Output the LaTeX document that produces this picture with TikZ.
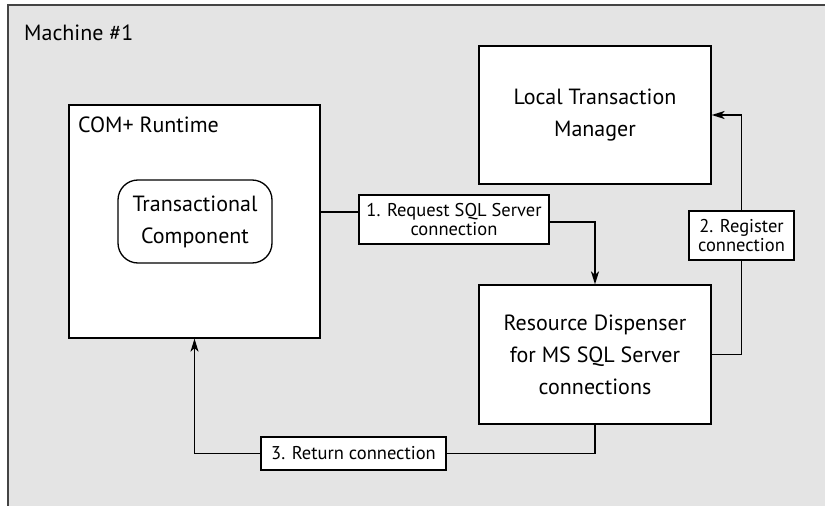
\documentclass[tikz,border=0pt]{standalone}
\usepackage{fontspec}
\setmainfont{PT Sans}
\usetikzlibrary{arrows.meta}
\definecolor{bggray}{HTML}{E4E4E4}
\definecolor{edge}{HTML}{444444}
\begin{document}
\begin{tikzpicture}[x=1pt,y=-1pt,
  box/.style={draw=black, fill=white, line width=1.3pt, align=center, inner sep=0pt,
    font=\fontsize{22}{32}\selectfont},
  lbl/.style={draw=black, fill=white, line width=1.2pt, align=center, inner sep=0pt,
    font=\fontsize{18.5}{18.5}\selectfont},
  plain/.style={inner sep=0pt, font=\fontsize{22}{32}\selectfont},
  conn/.style={line width=1.4pt},
  arr/.style={conn, -{Stealth[length=13pt,width=8pt,inset=3.5pt]}}]
\useasboundingbox (0,0) rectangle (825,506);
\fill[bggray] (8,5) rectangle (825,506);
\draw[edge, line width=1.5pt] (825,5) -- (8,5);
\draw[edge, line width=2.5pt] (8,4.3) -- (8,506);
\node[plain, anchor=base west] (mach) at (24,40) {Machine \#1};

\node[box, minimum width=251pt, minimum height=233pt] (com) at (194.5,221.5) {};
\node[plain, anchor=base west] (comt) at (78,132) {COM+ Runtime};
\node[box, rounded corners=20pt, minimum width=154pt, minimum height=83pt] (tc) at (195,221.5) {Transactional\\Component};

\node[box, minimum width=232pt, minimum height=138pt] (ltm) at (595,115) {Local Transaction\\Manager};
\node[box, minimum width=232pt, minimum height=139pt] (rd) at (595,354.5) {Resource Dispenser\\for MS SQL Server\\connections};

\node[lbl, minimum width=190pt, minimum height=49pt] (l1) at (454,219.5) {1. Request SQL Server\\connection};
\node[lbl, minimum width=105pt, minimum height=49pt] (l2) at (741.5,235.5) {2. Register\\connection};
\node[lbl, minimum width=185pt, minimum height=33pt] (l3) at (353.5,453.5) {3. Return connection};

\coordinate (a1) at ([yshift=7.5pt]l1.west);
\draw[conn] (a1 -| com.east) -- (a1);
\draw[arr] ([yshift=-2.5pt]l1.east) -| (rd.north);
\draw[conn] (rd.east) -| (l2.south);
\draw[arr] (l2.north) |- (ltm.east);
\draw[conn] (rd.south) |- (l3.east);
\draw[arr] (l3.west) -| (com.south);
\end{tikzpicture}
\end{document}
